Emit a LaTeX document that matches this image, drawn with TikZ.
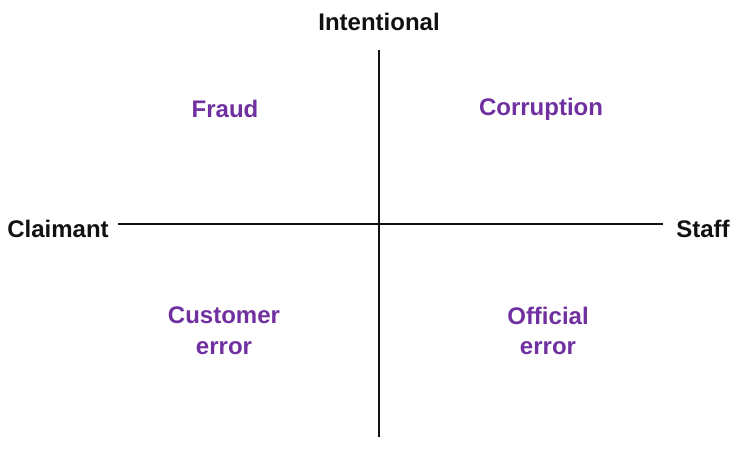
\documentclass[tikz,border=0pt]{standalone}
\usepackage{fontspec}
\setmainfont{Liberation Sans}
\usepackage{tikz}
\usetikzlibrary{positioning,calc}
\usepackage{xcolor}
\definecolor{Ink}{HTML}{111111}
\definecolor{Plum}{HTML}{7030A0}

\begin{document}
\begin{tikzpicture}[x=0.75pt,y=-0.75pt,
    axislabel/.style={font=\fontsize{18}{23}\selectfont\bfseries,text=Ink,inner sep=0pt},
    quadrant/.style={font=\fontsize{18}{23}\selectfont\bfseries,text=Plum,align=center,inner sep=0pt}]
  \useasboundingbox (0,0) rectangle (738,452);
  % axis labels
  \node[axislabel] (intent) at (379,22) {Intentional};
  \node[axislabel] (claim) at (58,229) {Claimant};
  \node[axislabel] (staff) at (703,229) {Staff};
  % axis ends
  \coordinate (top) at (379,50);
  \coordinate (bot) at (379,437);
  \coordinate (lft) at (118,224);
  \coordinate (rgt) at (663,224);
  \draw[Ink,line width=2.2pt] (top) -- (bot);
  \draw[Ink,line width=2.2pt] (lft) -- (rgt);
  % quadrants
  \node[quadrant] (fraud) at (225,109) {Fraud};
  \node[quadrant] (corrupt) at (541,109) {Corruption};
  \node[quadrant] (custerr) at (224,331) {Customer\\error};
  \node[quadrant] (offerr) at (548,331) {Official\\error};
\end{tikzpicture}
\end{document}
